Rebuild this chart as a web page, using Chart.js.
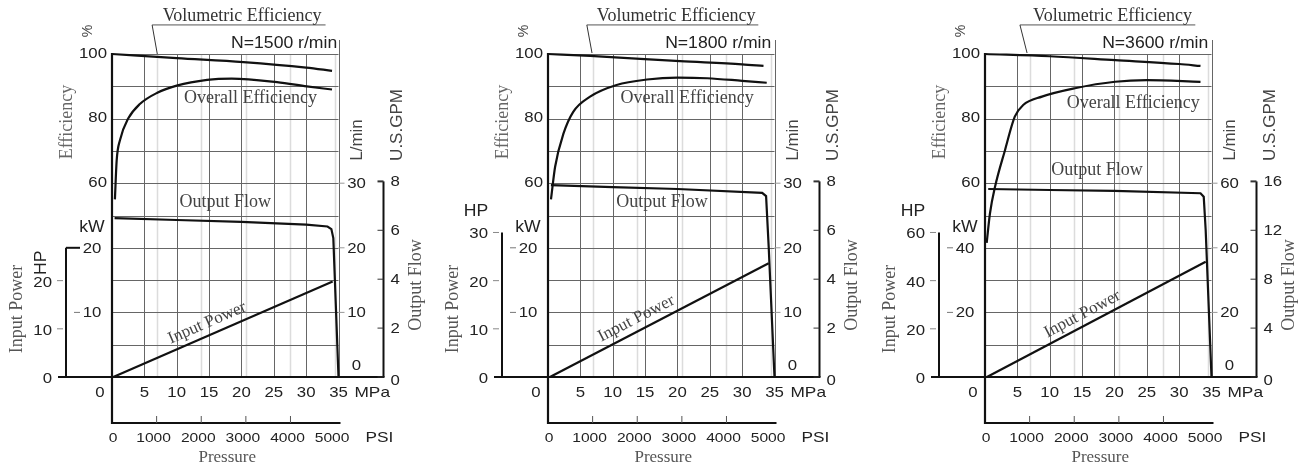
<!DOCTYPE html>
<html>
<head>
<meta charset="utf-8">
<script src="https://cdn.jsdelivr.net/npm/chart.js@4"></script>
<style>
html, body { margin: 0; padding: 0; background: #fff; }
#wrap { position: relative; width: 1315px; height: 471px; overflow: hidden; }
canvas { position: absolute; top: 0; }
</style>
</head>
<body>
<div id="wrap">
  <canvas id="c0" width="437" height="471" style="left:0px"></canvas>
  <canvas id="c1" width="437" height="471" style="left:436px"></canvas>
  <canvas id="c2" width="437" height="471" style="left:873px"></canvas>
</div>
<script>
// pressure in MPa, efficiency in %, flow in L/min, power in kW
const speedLabels = ['N=1500 r/min', 'N=1800 r/min', 'N=3600 r/min'];
const mpaTicks = [0, 5, 10, 15, 20, 25, 30, 35];
const psiTicks = [0, 1000, 2000, 3000, 4000, 5000];
const effTicks = [60, 80, 100];

// N = 1500 r/min
const volP1500 = [0, 10, 20.3, 30, 34];
const volEff1500 = [100, 98.7, 97.5, 95.8, 94.8];
const ovP1500 = [0.45, 0.72, 1.24, 2.5, 4.3, 7, 10, 14.7, 18.5, 25.5, 30.1, 34];
const ovEff1500 = [55, 67, 73.4, 80, 84.5, 88, 90.2, 92, 92.4, 91.3, 90, 89];
const flowP1500 = [0.4, 10, 20, 30, 33.3, 33.9, 34.2, 35];
const flowL1500 = [24.6, 24.3, 24, 23.6, 23.3, 22.9, 21.5, 0];
const powP1500 = [0.2, 34.1];
const powKW1500 = [0, 14.8];
const kwTicks1500 = [10, 20];
const hpTicks1500 = [0, 10, 20];
const lminTicks1500 = [0, 10, 20, 30];
const gpmTicks1500 = [0, 2, 4, 6, 8];

// N = 1800 r/min
const volP1800 = [0, 6.5, 20.4, 30, 33.3];
const volEff1800 = [100, 99.4, 97.8, 96.8, 96.3];
const ovP1800 = [0.46, 1.1, 2.4, 3.9, 6.5, 10.6, 15.3, 20, 24.6, 30, 33.8];
const ovEff1800 = [55, 65.1, 75.4, 82.1, 86.8, 90.4, 92.1, 92.7, 92.5, 91.7, 91.1];
const flowP1800 = [0.45, 10, 20, 33.1, 33.7, 34.1, 35];
const flowL1800 = [29.7, 29.4, 29.1, 28.5, 28, 20.2, 0];
const powP1800 = [0.3, 34.1];
const powKW1800 = [0, 17.6];
const kwTicks1800 = [10, 20];
const hpTicks1800 = [0, 10, 20, 30];
const lminTicks1800 = [0, 10, 20, 30];
const gpmTicks1800 = [0, 2, 4, 6, 8];

// N = 3600 r/min
const volP3600 = [0, 10, 20.1, 30, 33.3];
const volEff3600 = [100, 99.3, 98.1, 96.9, 96.3];
const ovP3600 = [0.26, 0.77, 1.55, 3.1, 4.6, 5.9, 8.8, 13.9, 20.1, 25, 33.3];
const ovEff3600 = [41.5, 50.7, 58.9, 70.3, 80.6, 84.2, 86.8, 89.4, 91.4, 91.9, 91.4];
const flowP3600 = [0.5, 10, 20, 33.3, 33.8, 34.1, 35];
const flowL3600 = [58.2, 57.9, 57.6, 56.9, 55.8, 45.5, 0];
const powP3600 = [0.3, 34.1];
const powKW3600 = [0, 35.7];
const kwTicks3600 = [20, 40];
const hpTicks3600 = [0, 20, 40, 60];
const lminTicks3600 = [0, 20, 40, 60];
const gpmTicks3600 = [0, 4, 8, 12, 16];

const KW_PER_HP = 0.7457;
const L_PER_GAL = 3.785;
const MPA_PER_PSI = 0.006895;

const panels = [
  { speed: speedLabels[0], volP: volP1500, vol: volEff1500, ovP: ovP1500, ov: ovEff1500,
    flowP: flowP1500, flow: flowL1500, powP: powP1500, pow: powKW1500, max: 50,
    kw: kwTicks1500, hp: hpTicks1500, lmin: lminTicks1500, gpm: gpmTicks1500, hpRot: true,
    volAt: [20.1, 111.8], lineFrom: 6.2, lineTo: 33, leadTo: [7.0, 100], nAt: [26.6, 103.1],
    ovAt: [21.4, 86.4], flowAt: [17.5, 54.2], powT: 0.45, powOff: 12 },
  { speed: speedLabels[1], volP: volP1800, vol: volEff1800, ovP: ovP1800, ov: ovEff1800,
    flowP: flowP1800, flow: flowL1800, powP: powP1800, pow: powKW1800, max: 50,
    kw: kwTicks1800, hp: hpTicks1800, lmin: lminTicks1800, gpm: gpmTicks1800, hpRot: false,
    volAt: [19.8, 111.8], lineFrom: 6.0, lineTo: 32.5, leadTo: [6.8, 100.3], nAt: [26.3, 103.1],
    ovAt: [21.5, 86.4], flowAt: [17.6, 54.2], powT: 0.42, powOff: 12 },
  { speed: speedLabels[2], volP: volP3600, vol: volEff3600, ovP: ovP3600, ov: ovEff3600,
    flowP: flowP3600, flow: flowL3600, powP: powP3600, pow: powKW3600, max: 100,
    kw: kwTicks3600, hp: hpTicks3600, lmin: lminTicks3600, gpm: gpmTicks3600, hpRot: false,
    volAt: [19.7, 111.8], lineFrom: 5.4, lineTo: 32.5, leadTo: [6.5, 100.3], nAt: [26.3, 103.1],
    ovAt: [22.9, 84.8], flowAt: [17.3, 64.1], powT: 0.46, powOff: 11 }
];

const SANS = 'Liberation Sans, Arial, sans-serif';
const SERIF = 'Liberation Serif, Times New Roman, serif';

function zip(xs, ys) {
  return xs.map((x, i) => ({ x: x, y: ys[i] }));
}

function text(ctx, s, x, y, o) {
  ctx.save();
  ctx.translate(x, y);
  if (o.rot) ctx.rotate(o.rot);
  ctx.scale(o.sx || 1, 1);
  ctx.font = o.font;
  ctx.fillStyle = o.color || '#222';
  ctx.textAlign = o.align || 'center';
  ctx.textBaseline = 'middle';
  ctx.fillText(s, 0, 0);
  ctx.restore();
}

function line(ctx, x1, y1, x2, y2, w, c) {
  ctx.beginPath();
  ctx.lineWidth = w;
  ctx.strokeStyle = c;
  ctx.moveTo(x1, y1);
  ctx.lineTo(x2, y2);
  ctx.stroke();
}

function makePlugin(p) {
  return {
    id: 'pumpDecor',
    beforeDatasetsDraw(chart) {
      const ctx = chart.ctx, s = chart.scales;
      const X0 = s.x.getPixelForValue(0), X35 = s.x.getPixelForValue(35);
      const Y0 = s.y.getPixelForValue(0), Y100 = s.y.getPixelForValue(100);
      ctx.save();
      // faint psi grid
      psiTicks.slice(1).forEach(v => {
        const x = Math.round(s.xPsi.getPixelForValue(v)) + 0.5;
        line(ctx, x, Y100, x, Y0, 1.5, '#dcdcdc');
      });
      for (let e = 0; e <= 100; e += 10) {
        const y = Math.round(s.y.getPixelForValue(e)) + 0.5;
        line(ctx, X0, y, X35, y, 1, '#666');
      }
      mpaTicks.slice(1).forEach(v => {
        const x = Math.round(s.x.getPixelForValue(v)) + 0.5;
        line(ctx, x, v === 35 ? Y100 - 14 : Y100, x, Y0, 1, '#666');
      });
      ctx.restore();
    },
    afterDatasetsDraw(chart) {
      const ctx = chart.ctx, s = chart.scales;
      const X0 = s.x.getPixelForValue(0), X35 = s.x.getPixelForValue(35);
      const Y0 = s.y.getPixelForValue(0), Y100 = s.y.getPixelForValue(100);
      const hpX = X0 - 46, gpmX = X35 + 45, psiY = Y0 + 46;
      const num = '14px ' + SANS;
      ctx.save();
      ctx.lineCap = 'butt';

      // axis lines
      line(ctx, X0, Y100 - 1, X0, psiY + 1, 2.2, '#111');
      line(ctx, hpX - 8, Y0, gpmX + 1, Y0, 2.2, '#111');
      const hpTop = Math.min(s.yHp.getPixelForValue(p.hp[p.hp.length - 1]),
                             s.yPow.getPixelForValue(p.kw[p.kw.length - 1]));
      line(ctx, hpX, Y0, hpX, hpTop, 2, '#111');
      const gpmTop = s.yGpm.getPixelForValue(p.gpm[p.gpm.length - 1]);
      line(ctx, gpmX, Y0, gpmX, gpmTop, 2, '#111');
      line(ctx, X0, psiY, X35 + 2, psiY, 2, '#111');

      // efficiency ticks
      effTicks.forEach(v => {
        text(ctx, String(v), X0 - 5, s.y.getPixelForValue(v), { font: num, align: 'right', sx: 1.2 });
      });
      text(ctx, '%', X0 - 24, Y100 - 23, { font: '14px ' + SANS, rot: -Math.PI / 2, color: '#444' });
      text(ctx, 'Efficiency', X0 - 45, Y100 + 68, { font: '18px ' + SERIF, rot: -Math.PI / 2, color: '#666' });

      // kW ticks
      p.kw.forEach((v, i) => {
        const y = s.yPow.getPixelForValue(v);
        const top = i === p.kw.length - 1 && Math.abs(y - hpTop) < 1;
        line(ctx, top ? hpX : hpX + 8, y, hpX + 14, y, top ? 2 : 1, top ? '#111' : '#777');
        text(ctx, String(v), X0 - 20, y + 1, { font: num, sx: 1.2 });
      });
      text(ctx, 'kW', X0 - 20, s.yPow.getPixelForValue(p.kw[p.kw.length - 1]) - 20, { font: '16px ' + SANS, sx: 1.1 });

      // HP ticks
      p.hp.forEach(v => {
        const y = s.yHp.getPixelForValue(v);
        if (v > 0) line(ctx, hpX - 9, y, hpX - 3, y, 1, '#888');
        text(ctx, String(v), hpX - 14, y + 2, { font: num, align: 'right', sx: 1.2 });
      });
      if (p.hpRot) {
        text(ctx, 'HP', hpX - 24, s.yHp.getPixelForValue(p.hp[p.hp.length - 1]) - 18,
          { font: '16px ' + SANS, rot: -Math.PI / 2, sx: 1.1 });
      } else {
        text(ctx, 'HP', hpX - 26, hpTop - 21, { font: '16px ' + SANS, sx: 1.1 });
      }
      text(ctx, 'Input Power', hpX - 49, Y0 - 68, { font: '18px ' + SERIF, rot: -Math.PI / 2, color: '#555' });

      // L/min ticks
      p.lmin.forEach(v => {
        const y = s.yFlow.getPixelForValue(v);
        if (v > 0) line(ctx, X35, y, X35 + 6, y, 1, '#999');
        text(ctx, String(v), X35 + 18, v === 0 ? y - 11 : y + 1, { font: num, sx: 1.2 });
      });
      text(ctx, 'L/min', X35 + 19, Y100 + 86, { font: '17px ' + SANS, rot: -Math.PI / 2, color: '#444' });

      // GPM ticks
      p.gpm.forEach(v => {
        const y = s.yGpm.getPixelForValue(v);
        line(ctx, gpmX - 6, y, gpmX, y, v === p.gpm[p.gpm.length - 1] ? 2 : 1, '#333');
        text(ctx, String(v), gpmX + 7, v === 0 ? y + 4 : y + 1, { font: num, align: 'left', sx: 1.2 });
      });
      text(ctx, 'U.S.GPM', gpmX + 14, Y100 + 71, { font: '17px ' + SANS, rot: -Math.PI / 2, color: '#444' });
      text(ctx, 'Output Flow', gpmX + 33, Y0 - 92, { font: '18px ' + SERIF, rot: -Math.PI / 2, color: '#555' });

      // MPa ticks
      mpaTicks.forEach(v => {
        const x = v === 0 ? X0 - 12 : s.x.getPixelForValue(v);
        text(ctx, String(v), x, Y0 + 16, { font: num, sx: 1.2 });
      });
      text(ctx, 'MPa', X35 + 16, Y0 + 16, { font: '15px ' + SANS, align: 'left', sx: 1.15 });

      // PSI ticks
      psiTicks.forEach(v => {
        const x = s.xPsi.getPixelForValue(v);
        if (v > 0 && v < 5000) line(ctx, x, psiY - 7, x, psiY, 1, '#555');
        text(ctx, String(v), v === 0 ? x + 1 : x - 3, psiY + 15, { font: '13px ' + SANS, sx: 1.2 });
      });
      text(ctx, 'PSI', X35 + 27, psiY + 15, { font: '15px ' + SANS, align: 'left', sx: 1.15 });
      text(ctx, 'Pressure', (X0 + X35) / 2 + 2, psiY + 35, { font: '17px ' + SERIF, color: '#555' });

      // curve labels
      const px = v => s.x.getPixelForValue(v);
      const py = v => s.y.getPixelForValue(v);
      text(ctx, 'Volumetric Efficiency', px(p.volAt[0]), py(p.volAt[1]), { font: '18px ' + SERIF, color: '#333' });
      const uy = py(109);
      line(ctx, px(p.lineFrom), uy, px(p.lineTo), uy, 1, '#555');
      line(ctx, px(p.lineFrom), uy, px(p.leadTo[0]), py(p.leadTo[1]), 1, '#333');
      text(ctx, p.speed, px(p.nAt[0]), py(p.nAt[1]), { font: '16px ' + SANS, color: '#222', sx: 1.1 });
      text(ctx, 'Overall Efficiency', px(p.ovAt[0]), py(p.ovAt[1]), { font: '18px ' + SERIF, color: '#444' });
      text(ctx, 'Output Flow', px(p.flowAt[0]), py(p.flowAt[1]), { font: '18px ' + SERIF, color: '#444' });

      const a0 = { x: px(p.powP[0]), y: s.yPow.getPixelForValue(p.pow[0]) };
      const a1 = { x: px(p.powP[p.powP.length - 1]), y: s.yPow.getPixelForValue(p.pow[p.pow.length - 1]) };
      const ang = Math.atan2(a1.y - a0.y, a1.x - a0.x);
      const lx = a0.x + p.powT * (a1.x - a0.x) + Math.sin(ang) * p.powOff;
      const ly = a0.y + p.powT * (a1.y - a0.y) - Math.cos(ang) * p.powOff;
      text(ctx, 'Input Power', lx, ly, { font: '17px ' + SERIF, rot: ang, color: '#444' });
      ctx.restore();
    }
  };
}

panels.forEach((p, i) => {
  const curve = { borderColor: '#111', borderWidth: 2.2, pointRadius: 0, fill: false, clip: false };
  new Chart(document.getElementById('c' + i), {
    type: 'line',
    data: {
      datasets: [
        Object.assign({ label: 'Volumetric Efficiency', data: zip(p.volP, p.vol), yAxisID: 'y', cubicInterpolationMode: 'monotone' }, curve),
        Object.assign({ label: 'Overall Efficiency', data: zip(p.ovP, p.ov), yAxisID: 'y', cubicInterpolationMode: 'monotone' }, curve),
        Object.assign({ label: 'Output Flow', data: zip(p.flowP, p.flow), yAxisID: 'yFlow', tension: 0 }, curve),
        Object.assign({ label: 'Input Power', data: zip(p.powP, p.pow), yAxisID: 'yPow', tension: 0 }, curve)
      ]
    },
    options: {
      responsive: false,
      animation: false,
      events: [],
      layout: { padding: { left: 112, top: 54, right: 98.5, bottom: 94 } },
      plugins: { legend: { display: false }, tooltip: { enabled: false } },
      scales: {
        x: { type: 'linear', min: 0, max: 35, display: false },
        xPsi: { type: 'linear', axis: 'x', min: 0, max: 35 / MPA_PER_PSI, display: false },
        y: { type: 'linear', min: 0, max: 100, display: false },
        yFlow: { type: 'linear', axis: 'y', min: 0, max: p.max, display: false },
        yPow: { type: 'linear', axis: 'y', min: 0, max: p.max, display: false },
        yHp: { type: 'linear', axis: 'y', min: 0, max: p.max / KW_PER_HP, display: false },
        yGpm: { type: 'linear', axis: 'y', min: 0, max: p.max / L_PER_GAL, display: false }
      }
    },
    plugins: [makePlugin(p)]
  });
});
</script>
</body>
</html>
